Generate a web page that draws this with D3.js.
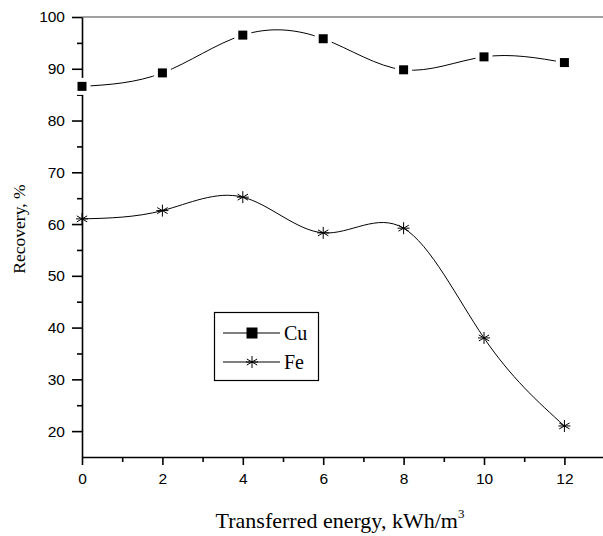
<!DOCTYPE html>
<html>
<head>
<meta charset="utf-8">
<script src="https://cdn.jsdelivr.net/npm/d3@7"></script>
<style>
  body { margin: 0; background: #fff; }
  .tick text { font-family: "Liberation Sans", Arial, sans-serif; font-size: 15.5px; fill: #000; }
  .axis path, .axis line { stroke: #000; stroke-width: 1.6; }
  .title { font-family: "Liberation Serif", "Times New Roman", serif; fill: #000; }
</style>
</head>
<body>
<div id="chart"></div>
<script>
// data
var energy = [0, 2, 4, 6, 8, 10, 12];
var cu = [86.6, 89.2, 96.5, 95.8, 89.8, 92.3, 91.2];
var fe = [61.0, 62.6, 65.2, 58.3, 59.2, 38.0, 21.0];
var xTicks = [0, 2, 4, 6, 8, 10, 12];
var yTicks = [20, 30, 40, 50, 60, 70, 80, 90, 100];

var width = 603, height = 536;
var margin = {top: 17, right: 0, bottom: 79, left: 82};
var w = width - margin.left - margin.right,
    h = height - margin.top - margin.bottom;

var svg = d3.select("#chart").append("svg")
    .attr("width", width)
    .attr("height", height);

var g = svg.append("g")
    .attr("transform", "translate(" + margin.left + "," + margin.top + ")");

var xScale = d3.scaleLinear().domain([0, 12.96]).range([0, w]);
var yScale = d3.scaleLinear().domain([15, 100]).range([h, 0]);

// top frame line
g.append("line")
    .attr("x1", 0).attr("x2", w)
    .attr("y1", 0).attr("y2", 0)
    .attr("stroke", "#808080").attr("stroke-width", 1.6);

// minor ticks
var xMinor = d3.axisBottom(xScale).tickValues(d3.range(1, 13, 2)).tickSize(5).tickFormat("");
var yMinor = d3.axisLeft(yScale).tickValues(d3.range(25, 100, 10)).tickSize(5).tickFormat("");

g.append("g").attr("class", "axis").attr("transform", "translate(0," + h + ")").call(xMinor)
    .select(".domain").remove();
g.append("g").attr("class", "axis").call(yMinor)
    .select(".domain").remove();

var xAxis = d3.axisBottom(xScale).tickValues(xTicks).tickSize(8).tickSizeOuter(0).tickPadding(8);
var yAxis = d3.axisLeft(yScale).tickValues(yTicks).tickSize(10).tickSizeOuter(0).tickPadding(7);

g.append("g").attr("class", "x axis")
    .attr("transform", "translate(0," + h + ")")
    .call(xAxis);

g.append("g").attr("class", "y axis")
    .call(yAxis);

// axis titles
svg.append("text").attr("class", "title")
    .attr("x", 340).attr("y", 528)
    .attr("text-anchor", "middle")
    .style("font-size", "22px")
    .html('Transferred energy, kWh/m<tspan dy="-10" font-size="13">3</tspan>');

svg.append("text").attr("class", "title")
    .attr("transform", "translate(25,229) rotate(-90)")
    .attr("text-anchor", "middle")
    .style("font-size", "17.5px")
    .text("Recovery, %");

// series lines
function lineFor(vals) {
    return d3.line()
        .x(function(d, i) { return xScale(energy[i]); })
        .y(function(d) { return yScale(d); })
        .curve(d3.curveNatural)(vals);
}

g.append("path")
    .attr("d", lineFor(cu))
    .attr("fill", "none").attr("stroke", "#000").attr("stroke-width", 1);

g.append("path")
    .attr("d", lineFor(fe))
    .attr("fill", "none").attr("stroke", "#000").attr("stroke-width", 1);

// Cu squares (white gap around like Origin)
var cuPts = g.append("g").selectAll("g").data(cu).enter().append("g")
    .attr("transform", function(d, i) {
        return "translate(" + xScale(energy[i]) + "," + yScale(d) + ")";
    });
cuPts.append("rect")
    .attr("x", -8.5).attr("y", -8.5).attr("width", 17).attr("height", 17)
    .attr("fill", "#fff");
cuPts.append("rect")
    .attr("x", -4.5).attr("y", -4.5).attr("width", 9).attr("height", 9)
    .attr("fill", "#000");

// Fe stars
g.append("g").selectAll("path").data(fe).enter().append("path")
    .attr("transform", function(d, i) {
        return "translate(" + xScale(energy[i]) + "," + yScale(d) + ")";
    })
    .attr("d", starPath(6))
    .attr("fill", "none").attr("stroke", "#000").attr("stroke-width", 1);

function starPath(r) {
    var p = "";
    [0, 60, 120].forEach(function(a) {
        var rad = a * Math.PI / 180;
        var dx = r * Math.sin(rad), dy = r * Math.cos(rad);
        p += "M" + (-dx) + "," + (-dy) + "L" + dx + "," + dy;
    });
    p += "M" + (-r) + ",0L" + r + ",0";
    return p;
}

// legend
var legend = svg.append("g");
legend.append("rect")
    .attr("x", 214.5).attr("y", 312.5).attr("width", 104).attr("height", 68)
    .attr("fill", "#fff").attr("stroke", "#000").attr("stroke-width", 1.2);

var legItems = [{name: "Cu", y: 333}, {name: "Fe", y: 362}];
legItems.forEach(function(it, k) {
    legend.append("line")
        .attr("x1", 223).attr("x2", 280)
        .attr("y1", it.y).attr("y2", it.y)
        .attr("stroke", "#000").attr("stroke-width", 1);
    if (k == 0) {
        legend.append("rect")
            .attr("x", 246.5).attr("y", it.y - 5.5).attr("width", 11).attr("height", 11)
            .attr("fill", "#000");
    } else {
        legend.append("path")
            .attr("transform", "translate(252," + it.y + ")")
            .attr("d", starPath(6))
            .attr("fill", "none").attr("stroke", "#000").attr("stroke-width", 1);
    }
    legend.append("text").attr("class", "title")
        .attr("x", 284).attr("y", it.y + 7)
        .style("font-size", "20px")
        .text(it.name);
});
</script>
</body>
</html>
